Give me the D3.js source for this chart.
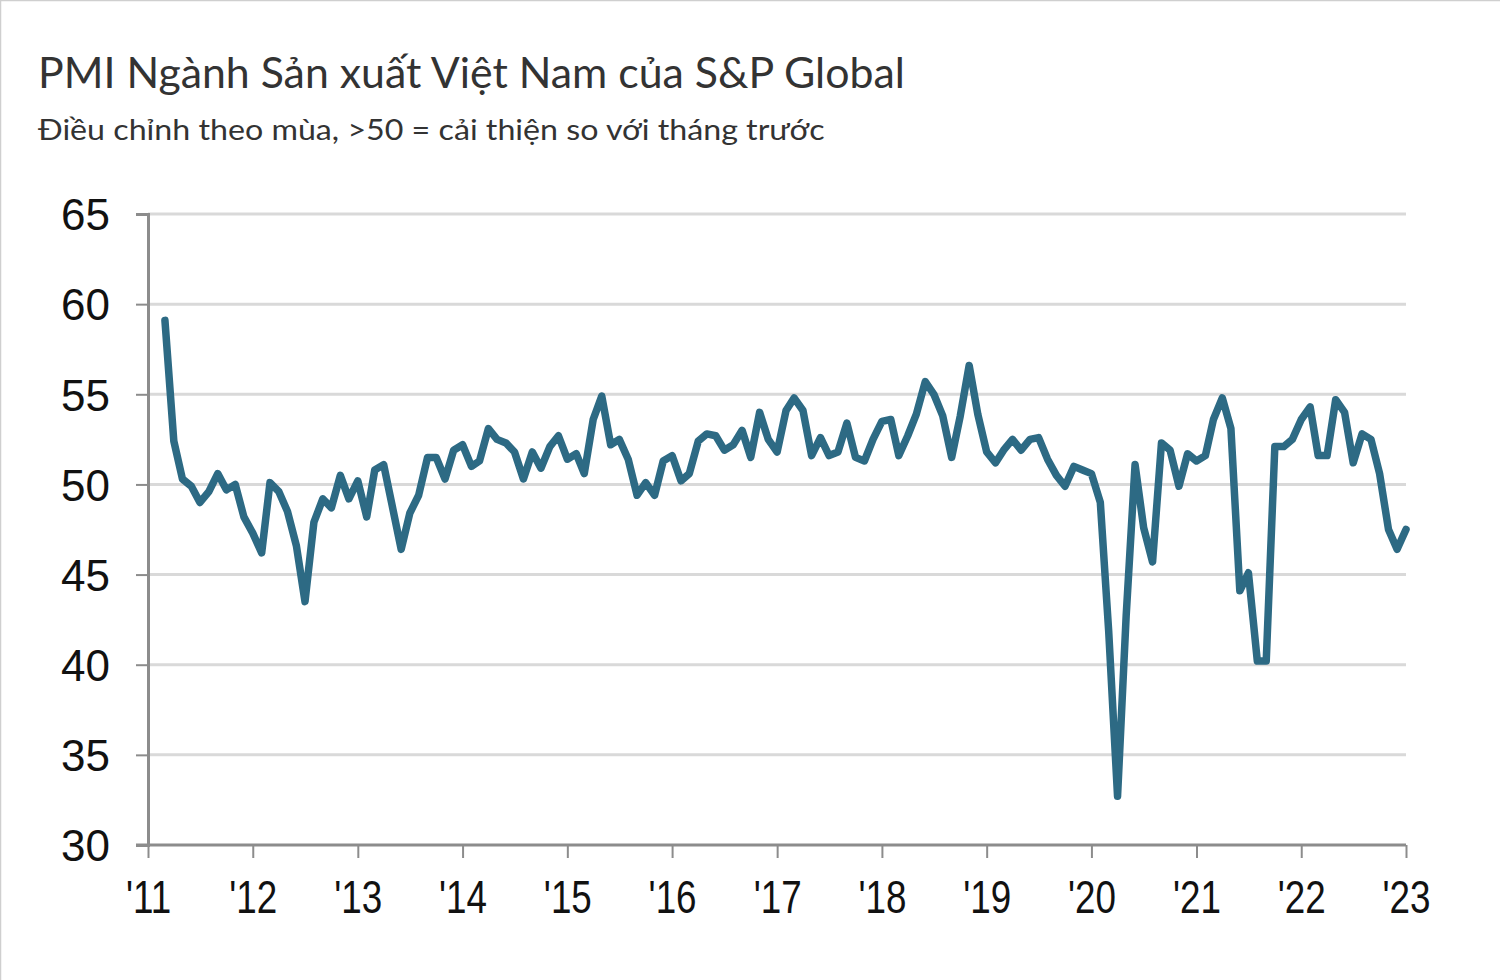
<!DOCTYPE html>
<html><head><meta charset="utf-8">
<script src="https://cdn.jsdelivr.net/npm/d3@7"></script>
<style>
html,body{margin:0;padding:0;background:#fff;}
svg{display:block;}
</style></head>
<body>
<svg id="chart" width="1500" height="980"></svg>
<script>
const title = "PMI Ngành Sản xuất Việt Nam của S&P Global";
const subtitle = "Điều chỉnh theo mùa, >50 = cải thiện so với tháng trước";
const startMonth = "2011-03";
const pmiValues = [
  59.1, 52.4, 50.3, 49.9, 49.0, 49.6, 50.6, 49.7, 50.0, 48.2,
  47.3, 46.2, 50.1, 49.6, 48.5, 46.6, 43.5, 47.9, 49.2, 48.7, 50.5, 49.2,
  50.2, 48.2, 50.8, 51.1, 48.8, 46.4, 48.4, 49.4, 51.5, 51.5, 50.3, 51.9,
  52.2, 51.0, 51.3, 53.1, 52.5, 52.3, 51.8, 50.3, 51.8, 50.9, 52.1, 52.7,
  51.4, 51.7, 50.6, 53.6, 54.9, 52.2, 52.5, 51.4, 49.4, 50.1, 49.4, 51.3,
  51.6, 50.2, 50.6, 52.4, 52.8, 52.7, 51.9, 52.2, 53.0, 51.5, 54.0, 52.5,
  51.8, 54.1, 54.8, 54.1, 51.6, 52.6, 51.6, 51.8, 53.4, 51.5, 51.3, 52.5,
  53.5, 53.6, 51.6, 52.7, 53.9, 55.7, 55.0, 53.8, 51.5, 53.8, 56.6, 53.9,
  51.8, 51.2, 51.9, 52.5, 51.9, 52.5, 52.6, 51.4, 50.5, 49.9, 51.0, 50.8,
  50.6, 49.0, 41.9, 32.7, 42.7, 51.1, 47.6, 45.7, 52.3, 51.9, 49.9, 51.7,
  51.3, 51.6, 53.6, 54.8, 53.1, 44.1, 45.1, 40.2, 40.2, 52.1, 52.1, 52.5,
  53.6, 54.3, 51.6, 51.6, 54.7, 54.0, 51.2, 52.8, 52.5, 50.6, 47.5, 46.4,
  47.5
];
const yTicks = [30, 35, 40, 45, 50, 55, 60, 65];
const xTickYears = [2011,2012,2013,2014,2015,2016,2017,2018,2019,2020,2021,2022,2023];
const xTickLabels = ["'11","'12","'13","'14","'15","'16","'17","'18","'19","'20","'21","'22","'23"];

const parse = d3.timeParse("%Y-%m");
const t0 = parse(startMonth);
const data = pmiValues.map((v, i) => ({date: d3.timeMonth.offset(t0, i), value: v}));

const svg = d3.select("#chart");
svg.append("path").attr("d","M0.5,980V0.5H1500")
  .attr("fill","none").attr("stroke","#cfcfcf").attr("stroke-width",1.5);

const x = d3.scaleTime().domain([new Date(2011,0,1), new Date(2023,0,1)]).range([148, 1406]);
const y = d3.scaleLinear().domain([30, 65]).range([845, 214]);

// title
const tt = svg.append("text").attr("x",38).attr("y",88).text(title)
  .attr("font-family","Lato, 'Open Sans', sans-serif").attr("font-size",42).attr("fill","#333");
const st = svg.append("text").attr("x",38).attr("y",140).text(subtitle)
  .attr("font-family","Lato, 'Open Sans', sans-serif").attr("font-size",29).attr("fill","#333");
function fitWidth(sel, w, x0){
  const len = sel.node().getComputedTextLength();
  const k = w/len;
  sel.attr("transform", `translate(${x0*(1-k)},0) scale(${k},1)`);
}
fitWidth(tt, 867, 38);
fitWidth(st, 787, 38);

// gridlines
svg.append("g").selectAll("line").data(yTicks.filter(d => d > 30)).join("line")
  .attr("x1",148).attr("x2",1406).attr("y1",d=>y(d)).attr("y2",d=>y(d))
  .attr("stroke","#d9d9d9").attr("stroke-width",3);

// y axis
const yAxis = svg.append("g").attr("transform","translate(148,0)")
  .call(d3.axisLeft(y).tickValues(yTicks).tickSize(12).tickPadding(26).tickFormat(d3.format("d")));
yAxis.select(".domain").attr("stroke","#8c8c8c").attr("stroke-width",3);
yAxis.selectAll(".tick line").attr("stroke","#8c8c8c").attr("stroke-width",2);
yAxis.selectAll(".tick text").attr("font-family","'Liberation Sans', Arial, sans-serif")
  .attr("font-size",44).attr("fill","#111").attr("dy","0.36em");

// x axis
const xAxis = svg.append("g").attr("transform","translate(0,845)")
  .call(d3.axisBottom(x).tickValues(xTickYears.map(yr => new Date(yr,0,1)))
    .tickSize(13).tickPadding(22).tickFormat((d,i) => xTickLabels[i]));
xAxis.select(".domain").attr("d","M136,0H1406").attr("stroke","#8c8c8c").attr("stroke-width",3);
xAxis.selectAll(".tick line").attr("stroke","#8c8c8c").attr("stroke-width",2);
xAxis.selectAll(".tick text").attr("font-family","'Liberation Sans', Arial, sans-serif")
  .attr("font-size",46).attr("fill","#111").attr("transform","scale(0.8,1)");

// line
svg.append("path").datum(data)
  .attr("d", d3.line().x(d=>x(d.date)).y(d=>y(d.value)))
  .attr("fill","none").attr("stroke","#2d6a84").attr("stroke-width",7.5)
  .attr("stroke-linejoin","round").attr("stroke-linecap","round");
</script>
</body></html>
